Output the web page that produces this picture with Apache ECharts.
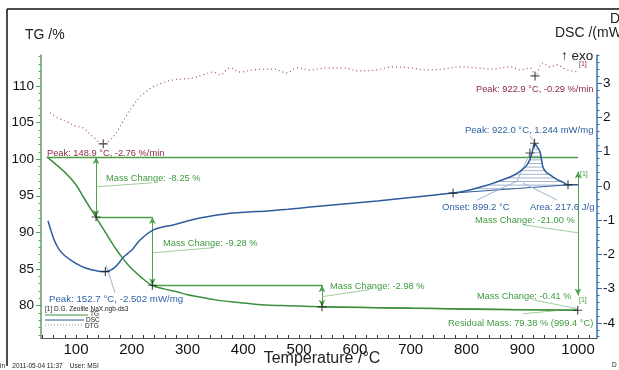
<!DOCTYPE html>
<html><head><meta charset="utf-8">
<script src="https://cdn.jsdelivr.net/npm/echarts@6/dist/echarts.min.js"></script>
<style>html,body{margin:0;padding:0;background:#fff}#c{width:619px;height:370px}</style>
</head><body><div id="c"></div>
<script>
// ---------- data ----------
const xTickLabels = [100,200,300,400,500,600,700,800,900,1000];
const tgTickLabels = [80,85,90,95,100,105,110];
const dscTickLabels = [-4,-3,-2,-1,0,1,2,3];

const tgTemp  = [48,66,84,100,112.6,124,135.9,148,161,172,182.5,192,202,218,236,258,281,300,322,350,381.5,410,442,480,519.5,540,620,700,780,850,920,999.4];
const tgValue = [100.3,99.15,97.9,96.5,94.9,93.5,92.1,90.6,89.0,87.7,86.6,85.7,84.9,83.8,82.8,82.3,81.9,81.5,81.2,80.8,80.5,80.3,80.1,80.0,79.9,79.85,79.75,79.65,79.57,79.5,79.44,79.38];

const dscTemp  = [49.8,56,62,70,80,92,104,116,128,140,152.7,162,170,177,184,193,202,208,215,226,238,255,274,298,322,350,381,410,442,480,520,580,640,700,776,800,819,835,848,864,878,890,901,908,914,918,922,926,932,937,943,950,962,973,982,1000];
const dscValue = [-1.02,-1.35,-1.62,-1.86,-2.04,-2.18,-2.30,-2.39,-2.45,-2.49,-2.502,-2.46,-2.37,-2.25,-2.10,-1.97,-1.84,-1.71,-1.58,-1.42,-1.29,-1.20,-1.14,-1.03,-0.94,-0.86,-0.79,-0.76,-0.73,-0.68,-0.62,-0.53,-0.44,-0.34,-0.21,-0.14,-0.06,0.01,0.08,0.17,0.26,0.36,0.49,0.60,0.78,1.00,1.244,1.16,0.99,0.55,0.40,0.32,0.19,0.11,0.03,0.03];

const dtgTemp  = [53.4,67.8,84,98.2,112.6,130.5,148.9,166.3,175.3,182.5,191.5,202.2,214.8,227.3,238,256,274,292,310,327.7,346,358.5,376.3,394.3,417.4,453.2,478.3,496.2,519.5,550,578.7,609,639.6,668,698.8,729.3,758,788.4,818.9,847.6,878,896,914,922.9,937,950,962,976.7,989,1000];
const dtgValue = [-1.63,-1.82,-1.96,-2.11,-2.18,-2.51,-2.76,-2.51,-2.25,-2.0,-1.71,-1.38,-1.05,-0.84,-0.69,-0.54,-0.44,-0.40,-0.36,-0.25,-0.15,-0.25,0.0,-0.15,-0.07,-0.04,-0.18,0.0,-0.07,0.0,0.0,-0.11,-0.07,0.04,0.0,-0.07,-0.04,0.04,0.0,-0.04,0.04,-0.07,0.0,-0.29,0.18,0.04,0.11,-0.04,-0.11,-0.15];

const tgCrossTemp = [136,237,541,999.4];
const tgCrossValue = [92.1,82.8,79.85,79.38];
const dscCrossTemp = [152.7,776,913.8,922,982];
const dscCrossValue = [-2.502,-0.21,0.96,1.244,0.03];
const dtgCrossTemp = [148.9,922.9];
const dtgCrossValue = [-2.76,-0.29];

// annotation geometry (data coordinates)
const tgGuides = [ [[48,100.3],[1000,100.3]], [[136,92.1],[237,92.1]], [[237,82.8],[541,82.8]], [[541,79.85],[1000,79.38]] ];
const tgArrows = [ [[136,100.3],[136,92.1]], [[237,92.1],[237,82.8]], [[541,82.8],[541,79.85]], [[1000,98.3],[1000,81.4]] ];
const tgLeaders = [ [[137.6,96.23],[236.3,96.77]], [[238.1,87.23],[345.7,87.91]], [[541,81.23],[627,82.2]], [[901.4,91.04],[1000,89.95]], [[919,80.82],[998,79.6]], [[901,78.9],[998,79.6]] ];
const dscBaseline = [[776,-0.21],[982,0.03]];
const dscLeaders = [ [[170,-3.12],[153.8,-2.31]], [[914,1.45],[922,1.27]], [[913.8,0.96],[890.6,0.14]], [[890.6,0.14],[819,-0.41]], [[901.4,0.08],[962.3,-0.41]] ];
const hatchFrom = 776, hatchTo = 982;

// ---------- helpers ----------
const FONT = 'Liberation Sans, Arial, sans-serif';
const pairs = (a,b) => a.map((t,i)=>[t,b[i]]);
function steps(a,b,s){const r=[];for(let v=a;v<=b+1e-9;v+=s)r.push(+v.toFixed(3));return r;}
const X_MIN=37.3, X_MAX=1034, TG_MIN=75.6, TG_MAX=114.2, DSC_MIN=-4.44, DSC_MAX=3.82, DTG_MIN=-9.82, DTG_MAX=0.47;

const GREEN='#3d8f3d', GREEN_T='#3f9a3f', GREEN_G='#4b9f4b', GREEN_L='#9fcd9f', BLUE='#2c5c9c', BLUE_T='#2f62a5', BLUE_L='#9ab2d2', MAROON='#a0505f', MAROON_T='#8e2c42';

function seg(list, color, width, sym){
  return list.map(s=>[
    {coord:s[0],symbol:sym?'arrow':'none',symbolSize:[5,7],lineStyle:{color:color,width:width,type:'solid'}},
    {coord:s[1],symbol:sym?'arrow':'none',symbolSize:[5,7]}]);
}

const crossPath='path://M4.35,0H5.65V4.35H10V5.65H5.65V10H4.35V5.65H0V4.35H4.35Z';
const plain = v => String(v);

function txt(x,y,text,size,color,extra){
  return {type:'text',x:x,y:y,silent:true,z:50,style:Object.assign({text:text,font:size+'px '+FONT,fill:color,align:'left',verticalAlign:'middle'},extra||{})};
}
function ln(x1,y1,x2,y2,color,w,dash){
  return {type:'line',silent:true,z:50,shape:{x1:x1,y1:y1,x2:x2,y2:y2},style:{stroke:color,lineWidth:w,lineDash:dash||null}};
}

const chart = echarts.init(document.getElementById('c'));
const option = {
  animation:false,
  grid:{left:41,right:22,top:55,bottom:32},
  xAxis:[{type:'value',min:X_MIN,max:X_MAX,
    axisLine:{show:true,onZero:false,lineStyle:{color:'#555',width:1}},
    axisTick:{show:true,inside:true,length:3,customValues:steps(40,1020,20),lineStyle:{color:'#333'}},
    axisLabel:{show:true,customValues:xTickLabels,formatter:plain,margin:4,fontSize:15,color:'#111',fontFamily:FONT},
    splitLine:{show:false}}],
  yAxis:[
    {type:'value',position:'left',min:TG_MIN,max:TG_MAX,
      axisLine:{show:true,onZero:false,lineStyle:{color:'#5aa55a',width:1.5}},
      axisTick:{show:true,length:5,customValues:tgTickLabels,lineStyle:{color:'#5aa55a'}},
      axisLabel:{show:true,customValues:tgTickLabels,formatter:plain,margin:7,fontSize:13.5,color:'#111',fontFamily:FONT},
      splitLine:{show:false}},
    {type:'value',position:'right',min:DSC_MIN,max:DSC_MAX,
      axisLine:{show:true,onZero:false,lineStyle:{color:'#3a6fb5',width:1.5}},
      axisTick:{show:true,length:5,customValues:dscTickLabels,lineStyle:{color:'#3a6fb5'}},
      axisLabel:{show:true,customValues:dscTickLabels,formatter:plain,margin:6,fontSize:13.5,color:'#111',fontFamily:FONT},
      splitLine:{show:false}},
    {type:'value',show:false,min:DTG_MIN,max:DTG_MAX,splitLine:{show:false}},
    {type:'value',position:'left',min:TG_MIN,max:TG_MAX,
      axisLine:{show:false},axisLabel:{show:false},splitLine:{show:false},
      axisTick:{show:true,length:2.5,customValues:steps(76,114,1),lineStyle:{color:'#5aa55a'}}},
    {type:'value',position:'right',min:DSC_MIN,max:DSC_MAX,
      axisLine:{show:false},axisLabel:{show:false},splitLine:{show:false},
      axisTick:{show:true,length:2.5,customValues:steps(-4.4,3.8,0.2),lineStyle:{color:'#3a6fb5'}}}
  ],
  series:[
    {type:'custom',xAxisIndex:0,yAxisIndex:1,data:[0],silent:true,z:1,
      renderItem:function(params,api){
        const pts=pairs(dscTemp,dscValue).filter(p=>p[0]>=hatchFrom&&p[0]<=hatchTo).map(p=>api.coord(p));
        let ymin=Infinity,ymax=-Infinity; pts.forEach(p=>{ymin=Math.min(ymin,p[1]);ymax=Math.max(ymax,p[1]);});
        const children=[];
        for(let y=Math.ceil(ymin)+1.5;y<ymax;y+=3.6){
          const xs=[];
          for(let i=0;i<pts.length;i++){
            const a=pts[i],b=pts[(i+1)%pts.length];
            if((a[1]<=y&&b[1]>y)||(b[1]<=y&&a[1]>y)){xs.push(a[0]+(y-a[1])*(b[0]-a[0])/(b[1]-a[1]));}
          }
          xs.sort((m,n)=>m-n);
          for(let k=0;k+1<xs.length;k+=2){children.push({type:'line',shape:{x1:xs[k],y1:y,x2:xs[k+1],y2:y},style:{stroke:'#8a9fc0',lineWidth:0.8}});}
        }
        return {type:'group',children:children};
      }},
    {type:'line',name:'TG',xAxisIndex:0,yAxisIndex:0,data:pairs(tgTemp,tgValue),showSymbol:false,smooth:0.3,
      lineStyle:{color:GREEN,width:1.5},z:5,
      markLine:{silent:true,symbol:['none','none'],label:{show:false},emphasis:{disabled:true},animation:false,
        data:[].concat(seg(tgGuides,GREEN_G,1.3,false),seg(tgArrows,'#4fa04f',1,true),seg(tgLeaders,GREEN_L,1,false))}},
    {type:'line',name:'DSC',xAxisIndex:0,yAxisIndex:1,data:pairs(dscTemp,dscValue),showSymbol:false,smooth:0.3,
      lineStyle:{color:BLUE,width:1.5},z:6,
      markLine:{silent:true,symbol:['none','none'],label:{show:false},emphasis:{disabled:true},animation:false,
        data:[].concat(seg([dscBaseline],BLUE,1,false),seg(dscLeaders,BLUE_L,1,false))}},
    {type:'line',name:'DTG',xAxisIndex:0,yAxisIndex:2,data:pairs(dtgTemp,dtgValue),showSymbol:false,smooth:0.4,
      lineStyle:{color:MAROON,width:1.2,type:[1,3]},z:4},
    {type:'scatter',xAxisIndex:0,yAxisIndex:0,data:pairs(tgCrossTemp,tgCrossValue),symbol:crossPath,symbolSize:9,itemStyle:{color:'#222'},silent:true,z:10},
    {type:'scatter',xAxisIndex:0,yAxisIndex:1,data:pairs(dscCrossTemp,dscCrossValue),symbol:crossPath,symbolSize:9,itemStyle:{color:'#222'},silent:true,z:10},
    {type:'scatter',xAxisIndex:0,yAxisIndex:2,data:pairs(dtgCrossTemp,dtgCrossValue),symbol:crossPath,symbolSize:9,itemStyle:{color:'#222'},silent:true,z:10}
  ],
  graphic:[
    ln(7,9,619,9,'#111',1.5), ln(7,9,7,366,'#111',1.5),
    txt(25,35,'TG /%',14,'#222'),
    txt(555,33,'DSC /(mW/mg)',14,'#222'),
    txt(610,19,'DTG /(%/min)',14,'#222'),
    txt(561,56,'\u2191 exo',13.5,'#222'),
    txt(579,64,'[1]',7,MAROON_T),
    txt(476,89,'Peak: 922.9 \u00b0C, -0.29 %/min',9.3,MAROON_T),
    txt(465,130,'Peak: 922.0 \u00b0C, 1.244 mW/mg',9.5,BLUE_T),
    txt(47,153,'Peak: 148.9 \u00b0C, -2.76 %/min',9.3,MAROON_T),
    txt(106,178,'Mass Change: -8.25 %',9.3,GREEN_T),
    txt(163,243,'Mass Change: -9.28 %',9.3,GREEN_T),
    txt(330,286,'Mass Change: -2.98 %',9.3,GREEN_T),
    txt(475,220,'Mass Change: -21.00 %',9.3,GREEN_T),
    txt(477,296,'Mass Change: -0.41 %',9.3,GREEN_T),
    txt(448,323,'Residual Mass: 79.38 % (999.4 \u00b0C)',9.3,GREEN_T),
    txt(442,207,'Onset: 899.2 \u00b0C',9.5,BLUE_T),
    txt(530,207,'Area: 217.6 J/g',9.5,BLUE_T),
    txt(580,174,'[1]',7,GREEN_T),
    txt(579,300,'[1]',7,GREEN_T),
    txt(49,299,'Peak: 152.7 \u00b0C, -2.502 mW/mg',9.7,BLUE_T),
    txt(45,309,'[1] D.G. Zeolite NaX.ngb-ds3',6.5,'#222'),
    ln(45,315,88,315,GREEN,1), txt(90,314,'TG',6.5,'#222'),
    ln(45,320,84,320,BLUE,1), txt(86,320,'DSC',6.5,'#222'),
    ln(45,325,82,325,'#999',1,[1,2]), txt(85,326,'DTG',6.5,'#222'),
    txt(322,358.5,'Temperature /\u00b0C',16,'#222',{align:'center'}),
    txt(0,366,'in    2011-05-04 11:37    User: MSI',6.5,'#222'),
    txt(612,365,'D',6.5,'#222')
  ]
};
chart.setOption(option);
</script></body></html>
